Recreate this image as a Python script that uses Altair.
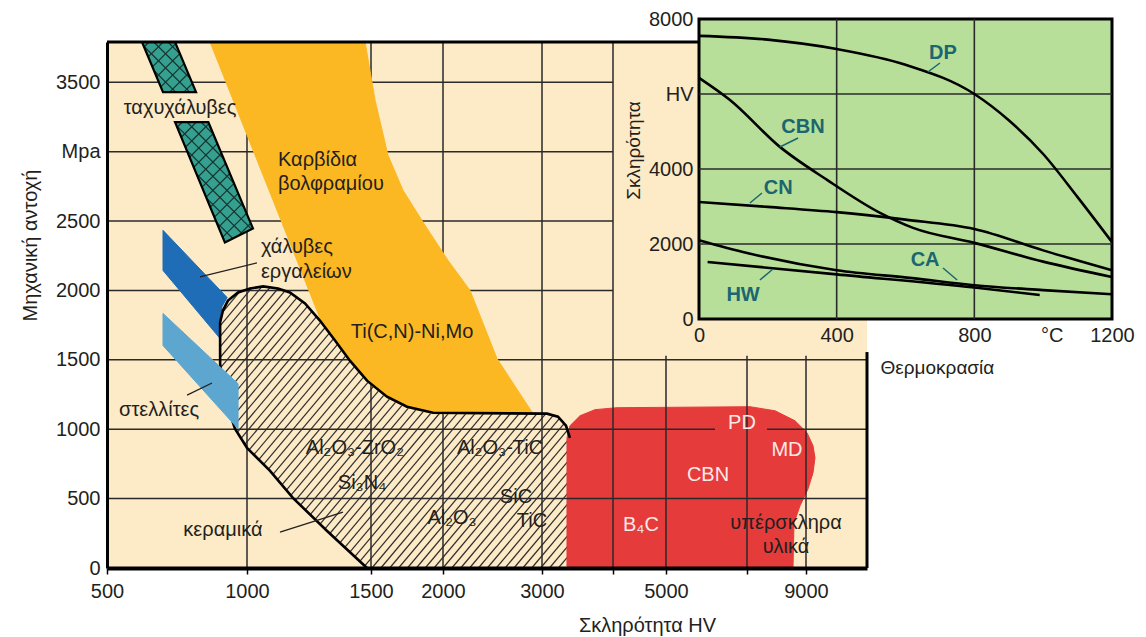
import numpy as np
import pandas as pd
import altair as alt

FONT = "Liberation Sans"
BEIGE = "#fdeac6"
ORANGE = "#fbb823"
TEAL = "#35a08f"
DARK_BLUE = "#1e6db6"
LIGHT_BLUE = "#5ca6d0"
RED = "#e53b3b"
GREEN = "#b7df99"
INK = "#231f20"
INSET_INK = "#1b6670"
GRID = "#2a2a2a"

# ---------------- main chart: hardness HV vs mechanical strength MPa ----------------
# piecewise hardness axis: breakpoints -> pixel offsets
X_DOMAIN = [500, 1000, 1500, 2000, 3000, 4000, 5000, 7000, 9000, 11000]
X_RANGE = [0, 140, 264, 336, 435, 506, 559, 640, 699, 760]
Y_DOMAIN = [0, 3790]
Y_RANGE = [549, 23]

HV_TICKS = [500, 1000, 1500, 2000, 3000, 4000, 5000, 7000, 9000]
MPA_TICKS = [0, 500, 1000, 1500, 2000, 2500, 3000, 3500]

# high-speed steels (band interrupted by its label)
hss_top_hv = [625, 743, 818, 700]
hss_top_mpa = [3790, 3790, 3429, 3429]
hss_bot_hv = [743, 862, 1000, 1024, 921]
hss_bot_mpa = [3212, 3212, 2548, 2447, 2346]

# tungsten carbides
wc_hv = [868, 1476, 1528, 1618, 1722, 1875, 2051, 2273, 2545, 2909,
         1931, 1750, 1611, 1484, 1415, 1355, 1298]
wc_mpa = [3790, 3790, 3371, 2974, 2722, 2469, 2216, 2000, 1509, 1112,
          1112, 1155, 1227, 1343, 1487, 1631, 1783]

# tool steels
tool_hv = [700, 929, 911, 904, 904, 700]
tool_mpa = [2433, 1949, 1884, 1798, 1653, 2144]

# stellites
stel_hv = [700, 968, 968, 700]
stel_mpa = [1834, 1328, 1003, 1603]

# ceramics (outline runs from the bottom-left corner over the top)
cer_hv = [1484, 1323, 1185, 1093, 1000, 957, 918, 904, 904, 914, 932, 968, 1012, 1065, 1125,
          1173, 1234, 1294, 1355, 1415, 1484, 1611, 1750, 1931, 3070, 3225, 3338, 3394, 3394]
cer_mpa = [0, 267, 505, 700, 866, 1003, 1242, 1473, 1769, 1855, 1927, 1985, 2014, 2029, 2014,
           1985, 1906, 1783, 1639, 1494, 1350, 1234, 1162, 1119, 1112, 1090, 1025, 938, 0]

# superhard materials
sh_hv = [3352, 3352, 3394, 3535, 3746, 4075, 7102, 7949, 8627, 9033, 9230, 9295, 9230, 9066, 8797, 8593, 8559]
sh_mpa = [0, 938, 1025, 1097, 1141, 1155, 1162, 1133, 1061, 975, 881, 794, 686, 570, 448, 325, 0]

# grid segments
hgrid_mpa = [500, 1000, 1000, 1500, 2000, 2500, 3000, 3500]
hgrid_from = [500, 500, 7680, 500, 500, 500, 500, 500]
hgrid_to = [11000, 6210, 11000, 11000, 4000, 4000, 4000, 4000]
vgrid_hv = [1000, 1500, 2000, 3000, 4000, 5000, 7000, 9000]
vgrid_top = [3790, 3790, 3790, 3790, 3790, 1530, 1530, 1530]

# labels
lab_left_text = ["Καρβίδια", "βολφραμίου", "χάλυβες", "εργαλείων"]
lab_left_hv = [1125, 1125, 1056, 1056]
lab_left_mpa = [2940, 2767, 2313, 2133]
lab_text = ["ταχυχάλυβες", "Ti(C,N)-Ni,Mo", "στελλίτες", "Al₂O₃-ZrO₂", "Si₃N₄", "Al₂O₃-TiC",
            "Al₂O₃", "SiC", "TiC", "κεραμικά", "υπέρσκληρα", "υλικά"]
lab_hv = [761, 1785, 686, 1435, 1464, 2576, 2091, 2737, 2899, 914, 8322, 8322]
lab_mpa = [3314, 1700, 1138, 865, 612, 865, 360, 512, 339, 274, 324, 151]
lab_white_text = ["PD", "MD", "CBN", "B₄C"]
lab_white_hv = [6876, 8356, 6037, 4528]
lab_white_mpa = [1045, 850, 670, 310]
lead_hv = [832, 786, 1133]
lead_mpa = [2097, 1246, 259]
lead_hv2 = [1040, 875, 1387]
lead_mpa2 = [2198, 1333, 403]

# ---------------- inset: hardness vs temperature ----------------
dp_t = [0, 200, 400, 600, 800, 900, 1000, 1100, 1200]
dp_hv = [7550, 7450, 7200, 6780, 6000, 5300, 4400, 3250, 2050]
cbn_t = [0, 90, 235, 372, 526, 622, 800, 1000, 1200]
cbn_hv = [6430, 5840, 4590, 3710, 2830, 2430, 2030, 1530, 1120]
cn_t = [0, 200, 400, 600, 800, 1000, 1200]
cn_hv = [3120, 2990, 2850, 2650, 2400, 1830, 1300]
ca_t = [0, 140, 400, 620, 800, 1000, 1200]
ca_hv = [2100, 1760, 1300, 1090, 900, 770, 660]
hw_t = [25, 400, 800, 990]
hw_hv = [1520, 1190, 840, 640]

in_lab_text = ["DP", "CBN", "CN", "CA", "HW"]
in_lab_t = [709, 302, 230, 657, 128]
in_lab_hv = [7094, 5120, 3494, 1573, 640]
in_lead_t = [700, 288, 183, 709, 177]
in_lead_hv = [6827, 4827, 3360, 1360, 1040]
in_lead_t2 = [665, 235, 148, 750, 215]
in_lead_hv2 = [6587, 4587, 3094, 1040, 1333]

# ---------------- helpers ----------------
XS = alt.Scale(domain=X_DOMAIN, range=X_RANGE, zero=False, nice=False)
YS = alt.Scale(domain=Y_DOMAIN, range=Y_RANGE, zero=False, nice=False)
ISX = alt.Scale(domain=[0, 1200], range=[592, 1005], zero=False, nice=False)
ISY = alt.Scale(domain=[0, 8000], range=[300, 0], zero=False, nice=False)


def to_px(hv, mpa):
    return np.interp(hv, X_DOMAIN, X_RANGE), np.interp(mpa, Y_DOMAIN, Y_RANGE)


def to_data(px, py):
    return np.interp(px, X_RANGE, X_DOMAIN), np.interp(py, Y_RANGE[::-1], Y_DOMAIN[::-1])


def hatch(hv, mpa, angle, spacing):
    """Parallel hatch segments (screen-straight) clipped to a polygon."""
    px, py = to_px(np.asarray(hv, float), np.asarray(mpa, float))
    pts = np.column_stack([px, py])
    a = np.radians(angle)
    d = np.array([np.cos(a), -np.sin(a)])
    n = np.array([np.sin(a), np.cos(a)])
    proj = pts @ n
    nxt = np.roll(pts, -1, axis=0)
    rows = []
    for c in np.arange(proj.min() + spacing / 2, proj.max(), spacing):
        hits = []
        for p, q in zip(pts, nxt):
            v1, v2 = p @ n - c, q @ n - c
            if (v1 < 0) != (v2 < 0):
                t = v1 / (v1 - v2)
                hits.append(p + t * (q - p))
        hits.sort(key=lambda h: h @ d)
        for h1, h2 in zip(hits[0::2], hits[1::2]):
            x1, y1 = to_data(h1[0], h1[1])
            x2, y2 = to_data(h2[0], h2[1])
            rows.append({"x": x1, "y": y1, "x2": x2, "y2": y2})
    return pd.DataFrame(rows)


def poly_df(parts):
    frames = []
    for k, (hv, mpa) in enumerate(parts):
        frames.append(pd.DataFrame({"hv": hv, "mpa": mpa, "i": range(len(hv)), "part": k}))
    return pd.concat(frames, ignore_index=True)


def region(parts, fill, stroke=None, width=1.0, closed=True):
    mark = dict(interpolate="linear-closed" if closed else "linear",
                stroke=stroke if stroke else fill, strokeWidth=width)
    if fill:
        mark["fill"] = fill
    return alt.Chart(poly_df(parts)).mark_line(**mark).encode(
        x=alt.X("hv:Q", scale=XS, axis=None),
        y=alt.Y("mpa:Q", scale=YS, axis=None),
        order="i:Q", detail="part:N")


def rules(df, color, width, sx=XS, sy=YS):
    return alt.Chart(df).mark_rule(color=color, strokeWidth=width).encode(
        x=alt.X("x:Q", scale=sx, axis=None), y=alt.Y("y:Q", scale=sy, axis=None),
        x2="x2:Q", y2="y2:Q")


def text_layer(texts, xs, ys, color, align="center", size=20, sx=XS, sy=YS, bold=False):
    df = pd.DataFrame({"t": texts, "x": xs, "y": ys})
    return alt.Chart(df).mark_text(
        font=FONT, fontSize=size, color=color, align=align, baseline="middle",
        fontWeight="bold" if bold else "normal").encode(
        x=alt.X("x:Q", scale=sx, axis=None), y=alt.Y("y:Q", scale=sy, axis=None), text="t:N")


# ---------------- main layers ----------------
x_axis = alt.Axis(
    orient="bottom", values=HV_TICKS, format="d",
    labelExpr="datum.value == 4000 || datum.value == 7000 ? '' : datum.label",
    labelFontSize=20, labelPadding=7, labelFlush=False, labelOverlap=False,
    tickSize=6, tickWidth=1.5, tickColor="black", domainWidth=4, domainColor="black",
    title="Σκληρότητα HV", titleFontSize=20, titleFontWeight="normal",
    titleX=540, titleY=57, titleAlign="center", titleBaseline="middle", zindex=2)
y_axis = alt.Axis(
    orient="left", values=MPA_TICKS, format="d",
    labelExpr="datum.value == 3000 ? 'Mpa' : datum.label",
    labelFontSize=20, labelPadding=7, labelFlush=False, labelOverlap=False,
    ticks=False, domainWidth=3, domainColor="black",
    title="Μηχανική αντοχή", titleFontSize=20, titleFontWeight="normal",
    titleAngle=270, titleX=-77, titleY=226, titleAlign="center", titleBaseline="middle", zindex=2)

bg = alt.Chart(pd.DataFrame({"x0": [500], "x1": [11000], "y0": [0], "y1": [3790]})).mark_rect(
    color=BEIGE).encode(
    x=alt.X("x0:Q", scale=XS, axis=x_axis), x2="x1:Q",
    y=alt.Y("y0:Q", scale=YS, axis=y_axis), y2="y1:Q")

cer_fill = region([(cer_hv, cer_mpa)], BEIGE, width=0.5)
cer_hatch = rules(hatch(cer_hv, cer_mpa, 50, 6.8), "#2e2e2e", 1.2)
superhard = region([(sh_hv, sh_mpa)], RED)

hgrid = alt.Chart(pd.DataFrame({"y": hgrid_mpa, "x": hgrid_from, "x2": hgrid_to})).mark_rule(
    color=GRID, strokeWidth=1.5).encode(
    x=alt.X("x:Q", scale=XS, axis=None), x2="x2:Q", y=alt.Y("y:Q", scale=YS, axis=None))
vgrid = alt.Chart(pd.DataFrame({"x": vgrid_hv, "y": [0] * len(vgrid_hv), "y2": vgrid_top})).mark_rule(
    color=GRID, strokeWidth=1.5).encode(
    x=alt.X("x:Q", scale=XS, axis=None), y=alt.Y("y:Q", scale=YS, axis=None), y2="y2:Q")

carbide = region([(wc_hv, wc_mpa)], ORANGE)
hss_parts = [(hss_top_hv, hss_top_mpa), (hss_bot_hv, hss_bot_mpa)]
hss = region(hss_parts, TEAL, width=0.5)
hss_hatch = rules(pd.concat([hatch(h, m, ang, 10) for h, m in hss_parts for ang in (45, -45)],
                            ignore_index=True), "#17332f", 1.2)
hss_outline = region(hss_parts, None, stroke="black", width=2.2)
tool = region([(tool_hv, tool_mpa)], DARK_BLUE)
cer_outline = region([(cer_hv[:-1], cer_mpa[:-1])], None, stroke="black", width=2.6, closed=False)
stellite = region([(stel_hv, stel_mpa)], LIGHT_BLUE)

borders = rules(pd.DataFrame({"x": [500, 11000], "x2": [7000, 11000],
                              "y": [3790, 0], "y2": [3790, 1556]}), "black", 3)
leaders = rules(pd.DataFrame({"x": lead_hv, "y": lead_mpa, "x2": lead_hv2, "y2": lead_mpa2}), INK, 1.3)

labels_c = text_layer(lab_text, lab_hv, lab_mpa, INK)
labels_l = text_layer(lab_left_text, lab_left_hv, lab_left_mpa, INK, align="left")
labels_w = text_layer(lab_white_text, lab_white_hv, lab_white_mpa, "#fbe9e6")

main_layers = [bg, cer_fill, cer_hatch, superhard, hgrid, vgrid, carbide, hss, hss_hatch,
               hss_outline, tool, cer_outline, stellite, borders, leaders,
               labels_c, labels_l, labels_w]

# ---------------- inset layers ----------------
ix_axis = alt.Axis(
    orient="bottom", offset=-249, values=[0, 400, 800, 1025, 1200], format="d",
    labelExpr="datum.value == 1025 ? '°C' : datum.label",
    labelFontSize=20, labelPadding=6, labelFlush=False, labelOverlap=False,
    ticks=False, domain=False,
    title="Θερμοκρασία", titleFontSize=19, titleFontWeight="normal",
    titleX=773, titleY=48, titleAlign="left", titleBaseline="middle", zindex=2)
iy_axis = alt.Axis(
    orient="left", offset=-592, values=[0, 2000, 4000, 6000, 8000], format="d",
    labelExpr="datum.value == 6000 ? 'HV' : datum.label",
    labelFontSize=20, labelPadding=6, labelFlush=False, labelOverlap=False,
    ticks=False, domain=False,
    title="Σκληρότητα", titleFontSize=19, titleFontWeight="normal",
    titleAngle=270, titleX=-66, titleY=131, titleAlign="center", titleBaseline="middle", zindex=2)

frame = alt.Chart(pd.DataFrame({"t0": [0], "t1": [1200], "h0": [0], "h1": [8000]})).mark_rect(
    fill=GREEN, stroke="black", strokeWidth=3).encode(
    x=alt.X("t0:Q", scale=ISX, axis=ix_axis), x2="t1:Q",
    y=alt.Y("h0:Q", scale=ISY, axis=iy_axis), y2="h1:Q")

igrid_v = alt.Chart(pd.DataFrame({"t": [400, 800], "h": [0, 0], "h2": [8000, 8000]})).mark_rule(
    color=GRID, strokeWidth=1.6).encode(
    x=alt.X("t:Q", scale=ISX, axis=None), y=alt.Y("h:Q", scale=ISY, axis=None), y2="h2:Q")
igrid_h = alt.Chart(pd.DataFrame({"h": [2000, 4000, 6000], "t": [0] * 3, "t2": [1200] * 3})).mark_rule(
    color=GRID, strokeWidth=1.6).encode(
    x=alt.X("t:Q", scale=ISX, axis=None), x2="t2:Q", y=alt.Y("h:Q", scale=ISY, axis=None))

curve_frames = []
for name, t, h in [("DP", dp_t, dp_hv), ("CBN", cbn_t, cbn_hv), ("CN", cn_t, cn_hv),
                   ("CA", ca_t, ca_hv), ("HW", hw_t, hw_hv)]:
    curve_frames.append(pd.DataFrame({"tool": name, "t": t, "h": h}))
curves = alt.Chart(pd.concat(curve_frames, ignore_index=True)).mark_line(
    color="black", strokeWidth=2.6, interpolate="monotone").encode(
    x=alt.X("t:Q", scale=ISX, axis=None), y=alt.Y("h:Q", scale=ISY, axis=None), detail="tool:N")

ileaders = rules(pd.DataFrame({"x": in_lead_t, "y": in_lead_hv, "x2": in_lead_t2, "y2": in_lead_hv2}),
                 INSET_INK, 1.5, sx=ISX, sy=ISY)
ilabels = text_layer(in_lab_text, in_lab_t, in_lab_hv, INSET_INK, sx=ISX, sy=ISY, bold=True)

inset_layers = [frame, igrid_v, igrid_h, curves, ileaders, ilabels]

# every layer carries explicit scales, so independent resolution keeps them aligned
chart = alt.layer(*main_layers, *inset_layers).resolve_scale(
    x="independent", y="independent").properties(
    width=1005, height=549,
    padding={"left": 107, "top": 19, "right": 34, "bottom": 69},
    autosize=alt.AutoSizeParams(type="none"),
    background="white",
).configure_view(stroke=None).configure_axis(
    labelFont=FONT, titleFont=FONT, labelColor=INK, titleColor=INK, grid=False)

chart.save("out.html", embed_options={"renderer": "svg", "actions": False})
